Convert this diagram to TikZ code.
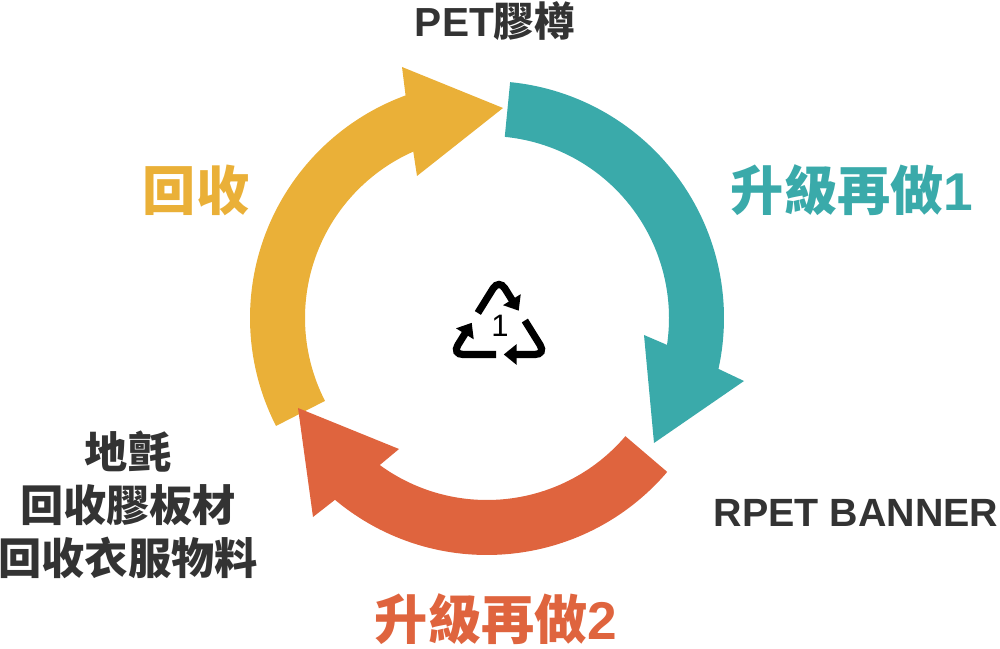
\documentclass[tikz,border=0pt]{standalone}
\usepackage{fontspec}
\usetikzlibrary{arrows.meta,calc}
\newfontfamily\cjk{Noto Sans CJK TC}
\newfontfamily\lat{Liberation Sans}
\definecolor{cyellow}{HTML}{EAB038}
\definecolor{cteal}{HTML}{3AAAAA}
\definecolor{cred}{HTML}{DF643E}
\definecolor{ctext}{HTML}{333333}
\tikzset{
  biglabel/.style={font=\cjk\bfseries\fontsize{26.6}{30}\selectfont, inner sep=0pt},
  darklabel/.style={text=ctext, inner sep=0pt},
  recyc/.style={line width=3.6pt, rounded corners=5.5pt, -{Triangle[width=10pt,length=6.5pt]}}
}
\begin{document}
\begin{tikzpicture}[x=0.5pt,y=0.5pt]
\useasboundingbox (0,0) rectangle (1000,648);
% cycle arrows
\begin{scope}[shift={(487,330)}]
\fill[cteal] (84.4:237) arc[start angle=84.4, end angle=-12.4, radius=237]
  -- (257,-63) -- (167,-125) -- (157,-17) -- (-8.5:182)
  arc[start angle=-8.5, end angle=84.4, radius=182] -- cycle;
\fill[cyellow] (207.1:237) arc[start angle=207.1, end angle=110.1, radius=237]
  -- (-85,251) -- (16,210) -- (-70,142) -- (113.9:182)
  arc[start angle=113.9, end angle=207.1, radius=182] -- cycle;
\fill[cred] (-40.5:237) arc[start angle=-40.5, end angle=-129.9, radius=237]
  -- (-174,-199) -- (-189,-90) -- (-88,-131) -- (-126.1:182)
  arc[start angle=-126.1, end angle=-40.5, radius=182] -- cycle;
\end{scope}
% recycling symbol
\coordinate (T) at (499,369);
\coordinate (BL) at (452,293.5);
\coordinate (BR) at (546,293.5);
\draw[recyc] ($(BL)!0.55!(T)$) -- (T) -- ($(T)!0.42!(BR)$);
\draw[recyc] ($(T)!0.55!(BR)$) -- (BR) -- ($(BR)!0.45!(BL)$);
\draw[recyc] ($(BR)!0.53!(BL)$) -- (BL) -- ($(BL)!0.42!(T)$);
\node[inner sep=0pt, font=\lat\fontsize{15.5}{18}\selectfont] (one) at (500,322) {1};
% labels
\node[darklabel, font=\bfseries\fontsize{20.3}{24}\selectfont] (pet) at (495,627) {{\lat PET}{\cjk 膠樽}};
\node[biglabel, text=cteal] (up1) at (852,458) {升級再做{\lat 1}};
\node[biglabel, text=cyellow] (recl) at (196,458) {回收};
\node[biglabel, text=cred] (up2) at (496,29) {升級再做{\lat 2}};
\node[darklabel, font=\lat\bfseries\fontsize{19.7}{22}\selectfont] (banner) at (856,135) {RPET BANNER};
\node[darklabel, align=center, font=\cjk\bfseries\fontsize{21.6}{26.5}\selectfont] (left) at (128,143) {地氈\\回收膠板材\\回收衣服物料};
\end{tikzpicture}
\end{document}
